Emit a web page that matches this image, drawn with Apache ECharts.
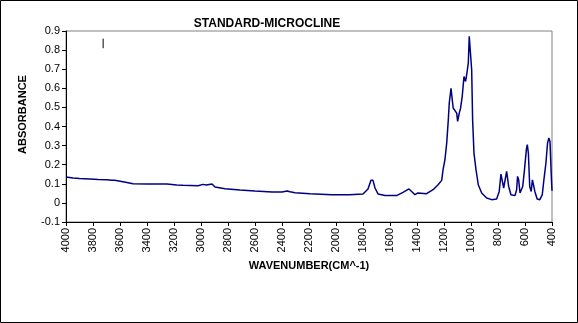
<!DOCTYPE html>
<html><head><meta charset="utf-8">
<script src="https://cdn.jsdelivr.net/npm/echarts@6/dist/echarts.min.js"></script>
<style>html,body{margin:0;padding:0;background:#fff}#c{width:578px;height:323px}</style>
</head><body><div id="c"></div>
<script>
const title = 'STANDARD-MICROCLINE';
const xName = 'WAVENUMBER(CM^-1)';
const yName = 'ABSORBANCE';
const wavenumber = [4000,3948,3900,3822,3760,3700,3690,3660,3640,3578,3540,3504,3400,3252,3180,3133,3022,2985,2960,2919,2896,2822,2711,2600,2474,2400,2363,2340,2304,2193,2030,1900,1800,1763,1741,1726,1711,1689,1637,1548,1504,1459,1452,1415,1393,1329,1281,1244,1217,1207,1193,1180,1168,1161,1148,1139,1132,1119,1106,1099,1087,1077,1065,1052,1040,1032,1020,1013,1003,995,988,978,963,946,921,884,847,810,791,778,768,758,748,736,728,721,704,674,662,655,647,637,617,605,590,583,575,565,554,545,535,527,510,490,472,460,445,433,423,415,404,400];
const absorbance = [0.135,0.130,0.128,0.125,0.122,0.121,0.126,0.118,0.119,0.111,0.106,0.100,0.099,0.099,0.094,0.092,0.090,0.097,0.094,0.099,0.083,0.074,0.067,0.062,0.057,0.057,0.062,0.058,0.053,0.048,0.043,0.043,0.047,0.073,0.118,0.118,0.078,0.047,0.039,0.039,0.055,0.073,0.073,0.043,0.052,0.048,0.069,0.095,0.118,0.174,0.226,0.313,0.436,0.523,0.600,0.593,0.497,0.497,0.470,0.427,0.470,0.497,0.558,0.662,0.636,0.671,0.732,0.872,0.863,0.697,0.436,0.261,0.174,0.095,0.052,0.026,0.017,0.020,0.060,0.151,0.148,0.078,0.069,0.165,0.174,0.086,0.043,0.038,0.069,0.139,0.121,0.052,0.086,0.165,0.279,0.305,0.261,0.086,0.060,0.121,0.125,0.060,0.020,0.017,0.043,0.121,0.209,0.313,0.340,0.322,0.121,0.064];
const markX = [3725,3725];
const markY = [0.86,0.81];
const yTicks = {min:-0.1,max:0.9,interval:0.1};
const xTicks = {min:400,max:4000,interval:200};

const chart = echarts.init(document.getElementById('c'));
chart.setOption({
  animation:false,
  backgroundColor:'#fff',
  title:{text:title,left:262,top:13,textAlign:'center',textStyle:{fontFamily:'Liberation Sans',fontSize:12,fontWeight:'bold',color:'#000'}},
  grid:{left:66,right:26,top:31,bottom:101,show:true,borderColor:'#808080',borderWidth:1,backgroundColor:'#fff'},
  xAxis:{type:'value',inverse:true,min:xTicks.min,max:xTicks.max,interval:xTicks.interval,
    name:xName,nameLocation:'middle',nameGap:36,
    nameTextStyle:{fontFamily:'Liberation Sans',fontSize:11,fontWeight:'bold',color:'#000'},
    axisLine:{onZero:false,lineStyle:{color:'#000',width:1}},
    axisTick:{length:4,lineStyle:{color:'#000'}},
    axisLabel:{rotate:90,margin:6,fontFamily:'Liberation Sans',fontSize:11,color:'#000',formatter:v=>String(v)},
    splitLine:{show:false}},
  yAxis:{type:'value',min:yTicks.min,max:yTicks.max,interval:yTicks.interval,
    name:yName,nameLocation:'middle',nameGap:38,
    nameTextStyle:{fontFamily:'Liberation Sans',fontSize:11,fontWeight:'bold',color:'#000',padding:[0,0,0,24]},
    axisLine:{show:true,lineStyle:{color:'#000',width:1}},
    axisTick:{show:true,length:4,lineStyle:{color:'#000'}},
    axisLabel:{margin:6,fontFamily:'Liberation Sans',fontSize:11,color:'#000',
      formatter:v=>String(Number(v.toFixed(1)))},
    splitLine:{show:false}},
  series:[
    {type:'line',data:wavenumber.map((w,i)=>[w,absorbance[i]]),showSymbol:false,
     lineStyle:{color:'#000080',width:1.5},itemStyle:{color:'#000080'}},
    {type:'line',data:markX.map((w,i)=>[w,markY[i]]),showSymbol:false,
     lineStyle:{color:'#000',width:1}}
  ],
  graphic:[{type:'rect',shape:{x:0.5,y:0.5,width:577,height:322},style:{fill:null,stroke:'#000',lineWidth:1},silent:true}]
});
</script></body></html>
